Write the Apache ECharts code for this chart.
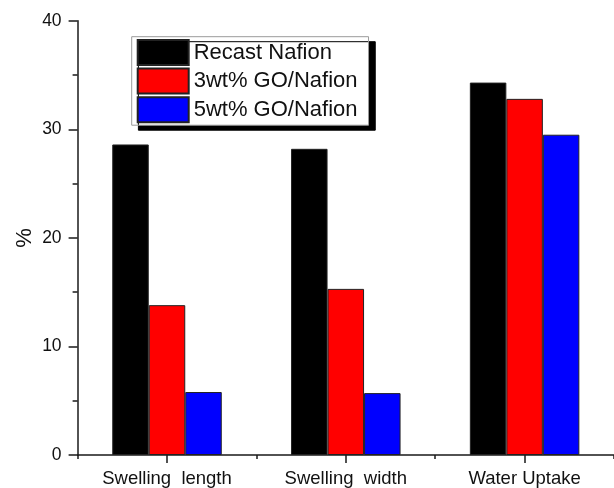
<!DOCTYPE html>
<html>
<head>
<meta charset="utf-8">
<script src="https://cdn.jsdelivr.net/npm/echarts@6/dist/echarts.min.js"></script>
<style>
html,body{margin:0;padding:0;background:#fff;}
#chart{width:614px;height:488px;}
</style>
</head>
<body>
<div id="chart"></div>
<script>
var categories = ['Swelling  length', 'Swelling  width', 'Water Uptake'];
var seriesNames = ['Recast Nafion', '3wt% GO/Nafion', '5wt% GO/Nafion'];
var recastNafion = [28.6, 28.2, 34.3];
var go3Nafion = [13.8, 15.3, 32.8];
var go5Nafion = [5.8, 5.7, 29.5];
var yTicks = [0, 10, 20, 30, 40];

var FONT = '"Liberation Sans", Arial, sans-serif';
var AX = '#1a1a1a';
var colors = ['#000000', '#ff0000', '#0000ff'];
var values = [recastNafion, go3Nafion, go5Nafion];

var chart = echarts.init(document.getElementById('chart'), null, {renderer: 'canvas'});
chart.setOption({
  animation: false,
  backgroundColor: '#ffffff',
  textStyle: {fontFamily: FONT},
  grid: {left: 77.6, right: -5.8, top: 20.7, bottom: 29.7, containLabel: false},
  legend: {
    orient: 'vertical',
    left: 131.7,
    top: 36.7,
    data: seriesNames,
    itemWidth: 51,
    itemHeight: 25,
    itemGap: 1.6,
    padding: [2.3, 11, 2, 5],
    backgroundColor: '#ffffff',
    borderColor: '#9a9a9a',
    borderWidth: 1,
    borderRadius: 0,
    shadowColor: '#000000',
    shadowBlur: 0,
    shadowOffsetX: 6.7,
    shadowOffsetY: 5,
    icon: 'rect',
    selectedMode: false,
    textStyle: {fontFamily: FONT, fontSize: 22, lineHeight: 25, color: '#111'}
  },
  xAxis: [{
    type: 'category',
    data: categories,
    boundaryGap: true,
    axisLine: {show: true, lineStyle: {color: AX, width: 1.5}},
    axisTick: {show: true, alignWithLabel: true, length: 8, lineStyle: {color: AX, width: 1.5}},
    axisLabel: {show: true, interval: 0, margin: 14, fontSize: 18.5, color: '#111', fontFamily: FONT},
    splitLine: {show: false}
  }, {
    type: 'category',
    data: categories,
    position: 'bottom',
    boundaryGap: true,
    axisLine: {show: false},
    axisTick: {show: true, interval: 0, length: 4, lineStyle: {color: AX, width: 1.5}},
    axisLabel: {show: false},
    splitLine: {show: false}
  }],
  yAxis: {
    type: 'value',
    min: yTicks[0],
    max: yTicks[yTicks.length - 1],
    interval: 10,
    name: '%',
    nameLocation: 'middle',
    nameGap: 42,
    nameRotate: 90,
    nameMoveOverlap: false,
    nameTextStyle: {fontSize: 22, color: '#111', fontFamily: FONT},
    axisLine: {show: true, lineStyle: {color: AX, width: 1.5}},
    axisTick: {show: true, length: 9, lineStyle: {color: AX, width: 1.5}},
    minorTick: {show: true, splitNumber: 2, length: 5, lineStyle: {color: AX, width: 1.5}},
    axisLabel: {margin: 16, fontSize: 17.5, color: '#111', fontFamily: FONT},
    splitLine: {show: false},
    minorSplitLine: {show: false}
  },
  series: seriesNames.map(function (name, i) {
    return {
      name: name,
      type: 'bar',
      xAxisIndex: 0,
      data: values[i],
      barWidth: 36.5,
      barGap: '0%',
      itemStyle: {color: colors[i], borderColor: '#222', borderWidth: 1}
    };
  })
});
</script>
</body>
</html>
